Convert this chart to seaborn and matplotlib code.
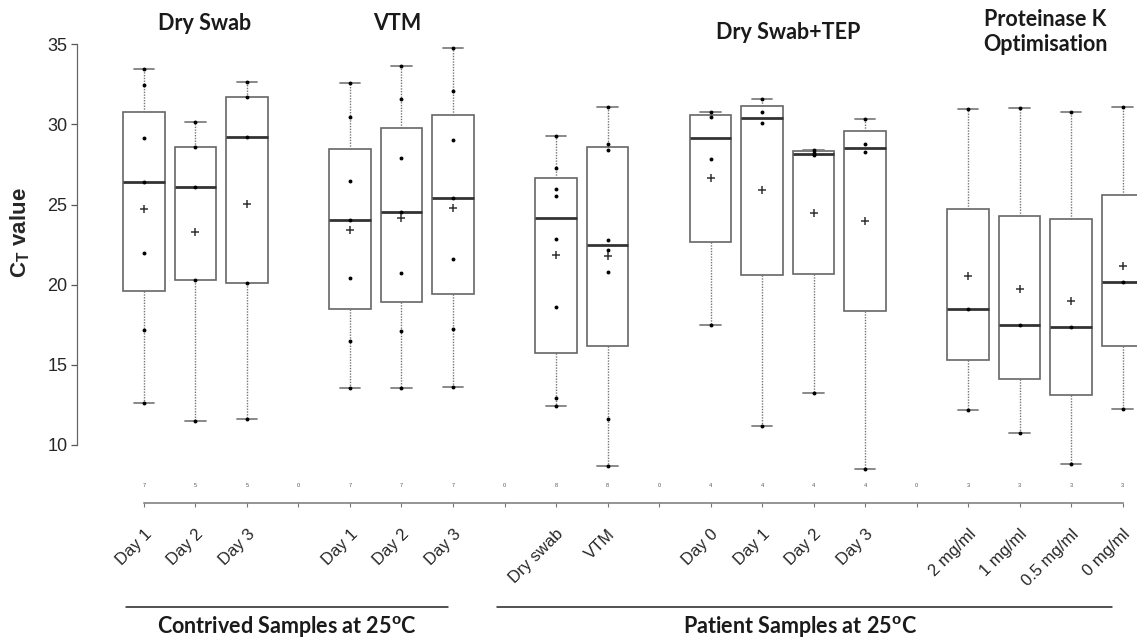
import numpy as np
import pandas as pd
import matplotlib
matplotlib.use("Agg")
import matplotlib.pyplot as plt
import seaborn as sns

# Ct values, one list per box
ds_day1 = [33.44, 32.44, 29.14, 26.43, 22.00, 17.18, 12.64]
ds_day2 = [30.13, 28.57, 26.08, 20.30, 11.50]
ds_day3 = [32.63, 31.69, 29.24, 20.13, 11.64]
vtm_day1 = [32.59, 30.46, 26.45, 24.06, 20.42, 16.51, 13.54]
vtm_day2 = [33.65, 31.61, 27.89, 24.56, 20.71, 17.13, 13.54]
vtm_day3 = [34.75, 32.11, 29.03, 25.43, 21.59, 17.22, 13.60]
pt_dry_swab = [29.28, 27.30, 25.97, 25.52, 22.87, 18.59, 12.95, 12.45]
pt_vtm = [31.11, 28.78, 28.43, 22.79, 22.17, 20.78, 11.61, 8.71]
tep_day0 = [30.78, 30.45, 27.86, 17.49]
tep_day1 = [31.57, 30.76, 30.07, 11.19]
tep_day2 = [28.41, 28.22, 28.10, 13.27]
tep_day3 = [30.36, 28.80, 28.28, 8.49]
pk_2 = [30.98, 18.47, 12.17]
pk_1 = [31.03, 17.49, 10.73]
pk_05 = [30.80, 17.38, 8.82]
pk_0 = [31.11, 20.15, 12.25]

# category keys (gaps are empty slots) and their tick labels
order = ["ds1", "ds2", "ds3", "gap1", "vtm1", "vtm2", "vtm3", "gap2",
         "pds", "pvtm", "gap3", "tep0", "tep1", "tep2", "tep3", "gap4",
         "pk2", "pk1", "pk05", "pk0"]
tick_labels = ["Day 1", "Day 2", "Day 3", "", "Day 1", "Day 2", "Day 3", "",
               "Dry swab", "VTM", "", "Day 0", "Day 1", "Day 2", "Day 3", "",
               "2 mg/ml", "1 mg/ml", "0.5 mg/ml", "0 mg/ml"]
groups = {"ds1": ds_day1, "ds2": ds_day2, "ds3": ds_day3,
          "vtm1": vtm_day1, "vtm2": vtm_day2, "vtm3": vtm_day3,
          "pds": pt_dry_swab, "pvtm": pt_vtm,
          "tep0": tep_day0, "tep1": tep_day1, "tep2": tep_day2, "tep3": tep_day3,
          "pk2": pk_2, "pk1": pk_1, "pk05": pk_05, "pk0": pk_0}

rows = [(k, v) for k, vals in groups.items() for v in vals]
df = pd.DataFrame(rows, columns=["group", "ct"])

sns.set_style("white")
plt.rcParams["font.family"] = ["Liberation Sans", "DejaVu Sans"]
plt.rcParams["mathtext.fontset"] = "custom"
plt.rcParams["mathtext.rm"] = "Liberation Sans"
plt.rcParams["mathtext.bf"] = "Liberation Sans:bold"

fig = plt.figure(figsize=(11.37, 6.38), dpi=100)
ax = fig.add_axes([77 / 1137, 135 / 638, 1060 / 1137, 475 / 638])

# boxes with Tukey hinges (R style boxplot)
stats = []
positions = []
for i, key in enumerate(order):
    if key not in groups:
        continue
    vals = np.array(groups[key])
    q1, med, q3 = np.percentile(vals, [25, 50, 75], method="midpoint")
    stats.append(dict(med=med, q1=q1, q3=q3, whislo=vals.min(),
                      whishi=vals.max(), fliers=[]))
    positions.append(i)

ax.bxp(stats, positions=positions, widths=0.8, showfliers=False,
       manage_ticks=False, patch_artist=True,
       boxprops=dict(facecolor="white", edgecolor="#666666", linewidth=1.2),
       medianprops=dict(color="#333333", linewidth=2.0),
       whiskerprops=dict(color="#777777", linestyle=(0, (1, 1)), linewidth=1.0),
       capprops=dict(color="#808080", linewidth=1.3))

sns.stripplot(data=df, x="group", y="ct", order=order, jitter=False,
              color="black", size=2.8, linewidth=0, ax=ax, zorder=4)
sns.pointplot(data=df, x="group", y="ct", order=order, estimator="mean",
              errorbar=None, linestyle="none", marker="+", color="#333333",
              markersize=6, markeredgewidth=1.1, ax=ax, zorder=5)

ax.set_xlim(-1.30, 19.28)
ax.set_ylim(6.38, 36.02)
ax.set_xlabel("")
ax.set_ylabel("")

ax.set_yticks([10, 15, 20, 25, 30, 35])
ax.tick_params(axis="y", length=4, width=0.9, color="#555555",
               labelsize=13, pad=3, left=True)
ax.set_xticks(range(len(order)))
ax.set_xticklabels(tick_labels, rotation=45, ha="right",
                   rotation_mode="anchor", fontsize=12)
ax.tick_params(axis="x", length=3, width=0.8, color="#777777", pad=14,
               bottom=True)

for side in ["top", "right"]:
    ax.spines[side].set_visible(False)
ax.spines["left"].set_bounds(10, 35)
ax.spines["bottom"].set_bounds(0, len(order) - 1)
ax.spines["left"].set_color("#666666")
ax.spines["bottom"].set_color("#777777")
ax.spines["left"].set_linewidth(0.9)
ax.spines["bottom"].set_linewidth(1.1)

# sample sizes above the axis
for i, key in enumerate(order):
    n = len(groups.get(key, []))
    ax.text(i, 7.5, str(n), ha="center", va="center", fontsize=4,
            color="#555555")

fig.text(20 / 1137, 1 - 233 / 638, r"$\mathbf{C_T}$ value", rotation=90,
         ha="center", va="center", fontsize=16, fontweight="bold")

# group titles
title_kw = dict(ha="center", va="center", fontsize=15.5, fontweight="bold",
                family=["Lato", "DejaVu Sans"], color="#1a1a1a", clip_on=False)
ax.text(1.17, 36.33, "Dry Swab", **title_kw)
ax.text(4.91, 36.33, "VTM", **title_kw)
ax.text(12.5, 35.77, "Dry Swab+TEP", **title_kw)
ax.text(17.5, 35.77, "Proteinase K\nOptimisation", linespacing=1.25, **title_kw)

# bottom brackets
ax.plot([-0.35, 5.9], [-0.1, -0.1], color="#222222", lw=1.1, clip_on=False)
ax.plot([6.85, 18.8], [-0.1, -0.1], color="#222222", lw=1.1, clip_on=False)
ax.text(2.78, -1.32, "Contrived Samples at 25$^{\\mathbf{o}}$C", **title_kw)
ax.text(12.74, -1.32, "Patient Samples at 25$^{\\mathbf{o}}$C", **title_kw)

fig.savefig("out.png", dpi=100)
